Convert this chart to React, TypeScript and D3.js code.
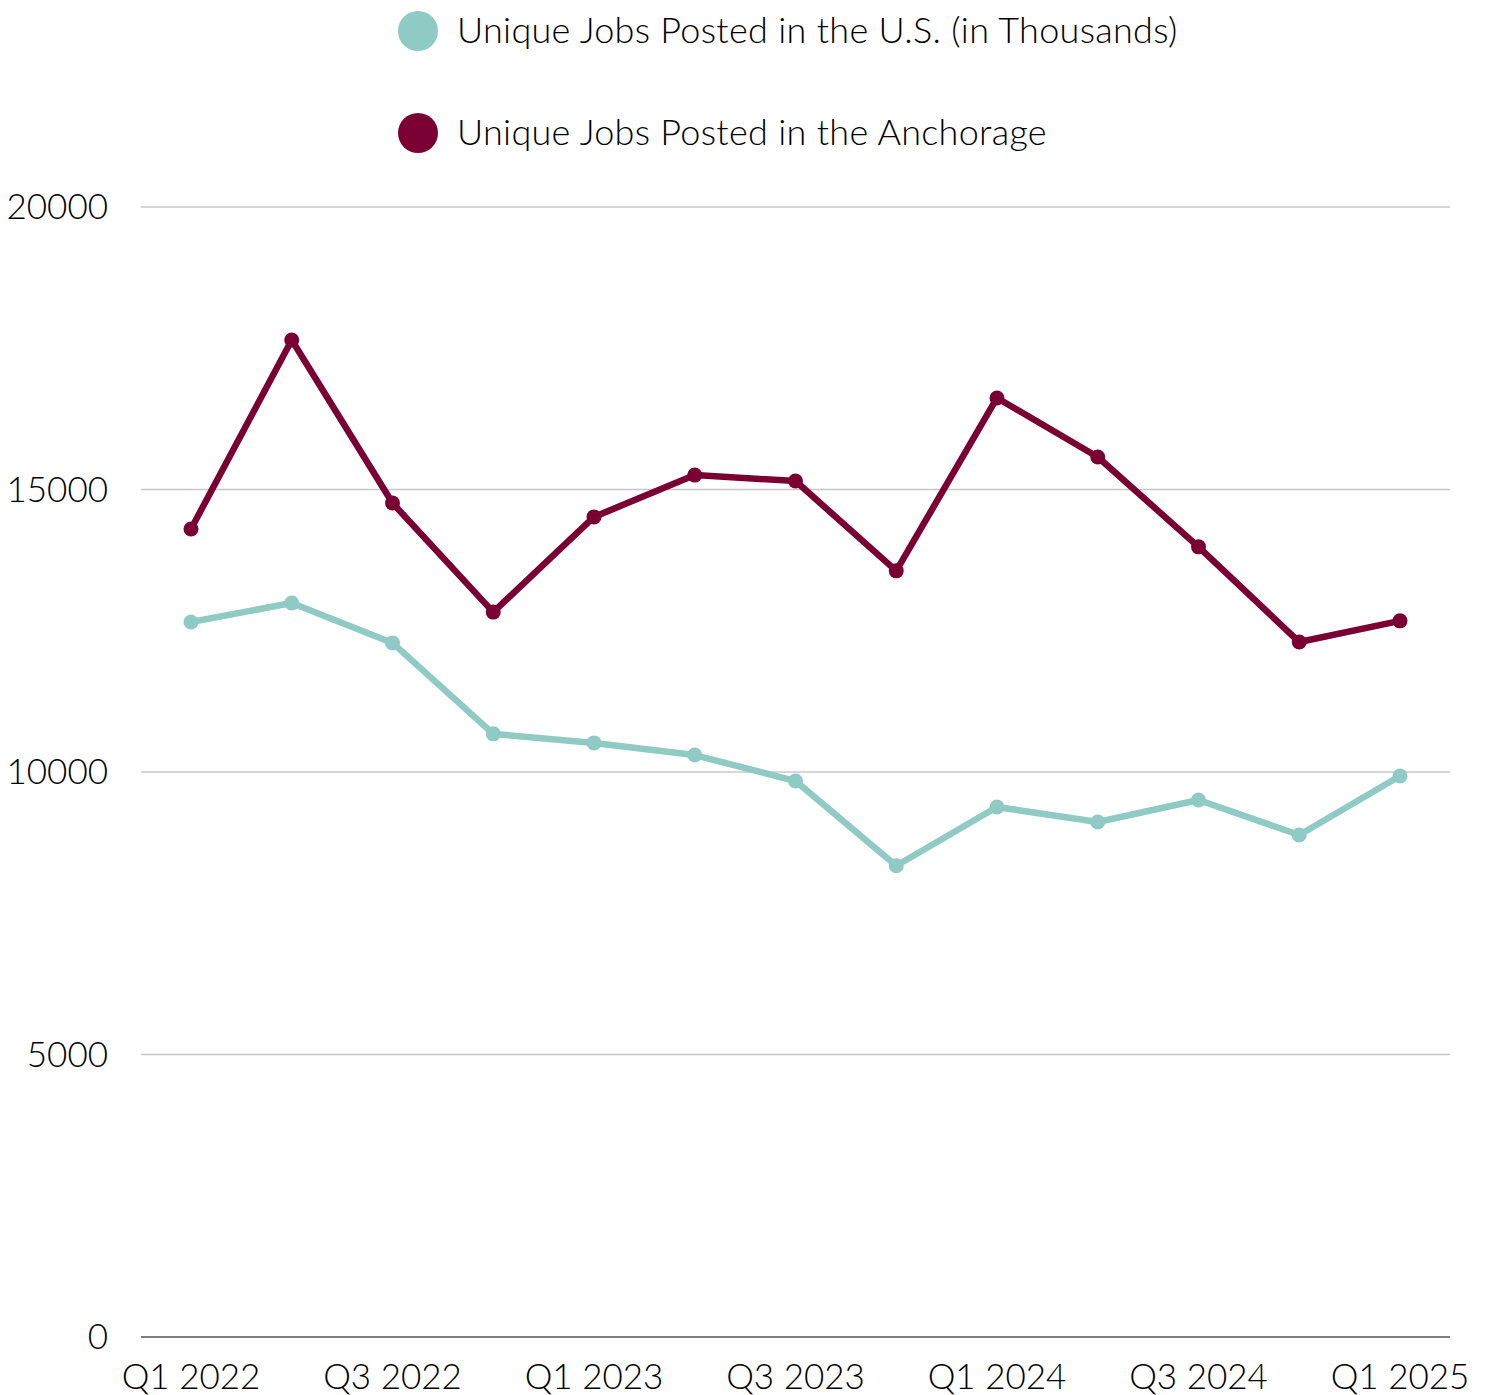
import React from "react";
import * as d3 from "d3";

const quarters = [
  "Q1 2022", "Q2 2022", "Q3 2022", "Q4 2022",
  "Q1 2023", "Q2 2023", "Q3 2023", "Q4 2023",
  "Q1 2024", "Q2 2024", "Q3 2024", "Q4 2024",
  "Q1 2025",
];
const usJobs = [12655, 12990, 12285, 10675, 10515, 10300, 9840, 8340, 9380, 9115, 9505, 8885, 9930];
const anchorageJobs = [14300, 17645, 14760, 12830, 14515, 15255, 15150, 13560, 16620, 15575, 13985, 12300, 12675];
const yTicks = [0, 5000, 10000, 15000, 20000];
const seriesNames = [
  "Unique Jobs Posted in the U.S. (in Thousands)",
  "Unique Jobs Posted in the Anchorage",
];
const seriesColors = ["#8fcac4", "#7a0033"];

const W = 1490;
const H = 1395;
const FONT = "'Lato', 'Open Sans', sans-serif";

export default function App() {
  const x = d3.scalePoint<string>().domain(quarters).range([191, 1400]);
  const y = d3.scaleLinear().domain([0, 20000]).range([1337, 207]);
  const line = d3
    .line<number>()
    .x((_, i) => x(quarters[i]) as number)
    .y((d) => y(d));
  const series = [usJobs, anchorageJobs];

  return (
    <svg width={W} height={H} style={{ display: "block", position: "absolute", left: 0, top: 0 }}>
      <rect width={W} height={H} fill="#fff" />
      {/* legend */}
      {seriesNames.map((name, i) => (
        <g key={name} transform={`translate(418, ${31 + i * 102})`}>
          <circle r={20} fill={seriesColors[i]} />
          <text x={39} y={12} fontFamily={FONT} fontWeight={300} fontSize={36} letterSpacing={0.3} fill="#000">
            {name}
          </text>
        </g>
      ))}
      {/* grid */}
      {yTicks.map((t) => (
        <g key={t}>
          <line
            x1={141}
            x2={1450}
            y1={y(t)}
            y2={y(t)}
            stroke={t === 0 ? "#808080" : "#c8c8c8"}
            strokeWidth={t === 0 ? 2 : 1.5}
          />
          <text
            x={108}
            y={y(t) + 12}
            textAnchor="end"
            fontFamily={FONT}
            fontWeight={300}
            fontSize={35}
            fill="#000"
          >
            {t}
          </text>
        </g>
      ))}
      {/* x labels */}
      {quarters.map((q, i) =>
        i % 2 === 0 ? (
          <text
            key={q}
            x={x(q) as number}
            y={1389}
            textAnchor="middle"
            fontFamily={FONT}
            fontWeight={300}
            fontSize={35}
            fill="#000"
          >
            {q}
          </text>
        ) : null
      )}
      {/* lines */}
      {series.map((s, si) => (
        <g key={si}>
          <path d={line(s) || ""} fill="none" stroke={seriesColors[si]} strokeWidth={6.5} strokeLinejoin="round" />
          {s.map((v, i) => (
            <circle key={i} cx={x(quarters[i]) as number} cy={y(v)} r={7.5} fill={seriesColors[si]} />
          ))}
        </g>
      ))}
    </svg>
  );
}
